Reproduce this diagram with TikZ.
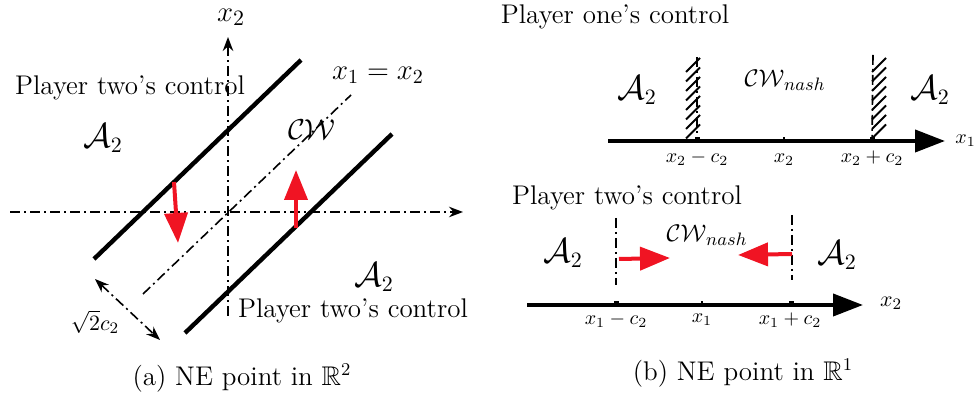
\documentclass[tikz,border=0pt]{standalone}
\usepackage{amsmath,amssymb}
\usetikzlibrary{arrows.meta}
\definecolor{pushred}{RGB}{240,20,35}
\tikzset{
  dashdot/.style={dash pattern=on 5pt off 2pt on 1pt off 2pt, line width=0.8pt},
  bound/.style={line width=2.2pt, black},
  push/.style={-{Triangle[length=15pt,width=11.5pt]}, line width=2pt, pushred},
  axline/.style={-{Triangle[length=15pt,width=11pt]}, line width=2pt},
  lab/.style={font=\fontsize{13.5}{16}\selectfont},
  captext/.style={font=\fontsize{13.5}{16}\selectfont},
  bigmath/.style={font=\fontsize{16}{19}\selectfont, inner sep=1pt},
  ticklab/.style={font=\fontsize{10}{12}\selectfont},
  nashlab/.style={font=\fontsize{12.5}{15}\selectfont},
}

\begin{document}
\begin{tikzpicture}[x=0.5pt, y=-0.5pt]
  \useasboundingbox (0,0) rectangle (974,394);

  % (a) NE point in R^2
  \coordinate (hl) at (10,212);   \coordinate (hr) at (463,212);
  \coordinate (vb) at (228,316);  \coordinate (vt) at (228,37);
  \coordinate (db) at (143,294);  \coordinate (dt) at (351,95);
  \coordinate (ub) at (94,259);   \coordinate (ut) at (301,60);
  \coordinate (lb) at (185,333);  \coordinate (lt) at (392,134);
  \coordinate (w1) at (95,279);   \coordinate (w2) at (160,340);
  \coordinate (r1s) at (174,182); \coordinate (r1e) at (178,243);
  \coordinate (r2s) at (296,228); \coordinate (r2e) at (296,170);

  \draw[dashdot, -{Stealth[length=7pt]}] (hl) -- (hr);
  \draw[dashdot, -{Stealth[length=7pt]}] (vb) -- (vt);
  \draw[dashdot] (db) -- (dt);
  \draw[bound] (ub) -- (ut);
  \draw[bound] (lb) -- (lt);
  \draw[dashdot, {Stealth[length=7pt]}-{Stealth[length=7pt]}] (w1) -- (w2);
  \draw[push] (r1s) -- (r1e);
  \draw[push] (r2s) -- (r2e);

  \node[font=\fontsize{15}{17}\selectfont, inner sep=1pt] (vlab) at (231,17) {$x_2$};
  \node[font=\fontsize{14.5}{17}\selectfont] (diag) at (378,75) {$x_1 = x_2$};
  \node[lab] (p2a) at (130,88) {Player two's control};
  \node[lab, inner sep=1pt] (p2b) at (353,311) {Player two's control};
  \node[bigmath] (a2a) at (103,138) {$\mathcal{A}_2$};
  \node[bigmath] (a2b) at (374,277) {$\mathcal{A}_2$};
  \node[font=\fontsize{15}{18}\selectfont] (cw) at (312,130) {$\mathcal{CW}$};
  \node[font=\fontsize{11}{13}\selectfont] (wid) at (95,322) {$\sqrt{2}c_2$};
  \node[captext] (capa) at (242,378) {(a) NE point in $\mathbb{R}^2$};

  % (b) NE point in R^1, player one
  \coordinate (a1l) at (608,141); \coordinate (a1r) at (945,141);
  \coordinate (bl) at (697,141);  \coordinate (bm) at (784,141);
  \coordinate (br) at (872,141);
  \draw[axline] (a1l) -- (a1r);
  \draw[dashdot] (697,57) -- (bl);
  \draw[dashdot] (873,55) -- (br);
  \foreach \y in {72,81.5,...,139} {
    \draw[line width=1pt] (686,\y) -- (700,\y-14);
    \draw[line width=1pt] (872,\y) -- (886,\y-14);
  }
  \fill (bl) ++(-2.5,-4) rectangle ++(5,4);
  \fill (br) ++(-2.5,-4) rectangle ++(5,4);
  \draw[line width=0.6pt] (bm) -- ++(0,-4);

  \node[lab] (p1) at (615,17) {Player one's control};
  \node[ticklab, anchor=west, inner sep=0pt] (x1lab) at (955,141) {$x_1$};
  \node[ticklab] (t1) at (697,158) {$x_2 - c_2$};
  \node[ticklab] (t2) at (784,160) {$x_2$};
  \node[ticklab] (t3) at (872,158) {$x_2 + c_2$};
  \node[bigmath] (a2c) at (637,90) {$\mathcal{A}_2$};
  \node[bigmath] (a2d) at (930,90) {$\mathcal{A}_2$};
  \node[nashlab] (cwn1) at (785,80) {$\mathcal{CW}_{nash}$};

  % player two
  \coordinate (a2l) at (527,305); \coordinate (a2r) at (863,305);
  \coordinate (cl) at (616,305);  \coordinate (cm) at (702,305);
  \coordinate (cr) at (791,305);
  \draw[axline] (a2l) -- (a2r);
  \draw[dashdot] (616,218) -- (616,285);
  \draw[dashdot] (792,215) -- (792,280);
  \fill (cl) ++(-2.5,-4) rectangle ++(5,4);
  \fill (cr) ++(-2.5,-4) rectangle ++(5,4);
  \draw[line width=0.6pt] (cm) -- ++(0,-4);
  \coordinate (q1s) at (619,259); \coordinate (q1e) at (670,258);
  \coordinate (q2s) at (792,254); \coordinate (q2e) at (738,255);
  \draw[push] (q1s) -- (q1e);
  \draw[push] (q2s) -- (q2e);

  \node[lab] (p2c) at (627,198) {Player two's control};
  \node[font=\fontsize{11}{13}\selectfont, anchor=west] (x2lab) at (873,303) {$x_2$};
  \node[ticklab] (s1) at (616,320) {$x_1 - c_2$};
  \node[ticklab] (s2) at (702,320) {$x_1$};
  \node[ticklab] (s3) at (790,320) {$x_1 + c_2$};
  \node[bigmath] (a2e) at (563,253) {$\mathcal{A}_2$};
  \node[bigmath] (a2f) at (837,255) {$\mathcal{A}_2$};
  \node[nashlab] (cwn2) at (707,235) {$\mathcal{CW}_{nash}$};
  \node[captext] (capb) at (743,373) {(b) NE point in $\mathbb{R}^1$};
\end{tikzpicture}
\end{document}
